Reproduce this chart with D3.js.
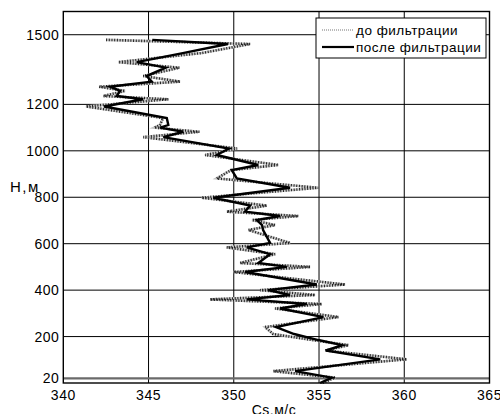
<!DOCTYPE html>
<html>
<head>
<meta charset="utf-8">
<script src="https://cdn.jsdelivr.net/npm/d3@7"></script>
<style>
  body { margin: 0; background: #fff; }
  svg { display: block; font-family: 'Liberation Sans', Arial, sans-serif; }
  .tick-label { font-size: 14px; letter-spacing: 0.5px; fill: #000; }
  .legend-text { font-size: 13.5px; letter-spacing: 0.5px; fill: #000; }
</style>
</head>
<body>
<div id="chart"></div>
<script>
// depth, m
const depth = [1478, 1460, 1421, 1382, 1358, 1322, 1298, 1276, 1258, 1236, 1222, 1191,
  1141, 1111, 1100, 1082, 1059, 1010, 982, 939, 917, 881, 841, 798, 764, 738, 719, 702,
  680, 659, 603, 584, 555, 517, 500, 478, 424, 400, 379, 360, 340, 321, 284, 241, 211,
  185, 163, 140, 102, 51, 23, 0];
// velocity before filtering
const rawVelocity = [342.51, 350.96, 348.12, 343.23, 346.81, 344.69, 346.85, 342.10, 343.62,
  342.35, 346.16, 341.33, 345.85, 345.67, 345.34, 347.98, 344.69, 350.19, 348.32, 352.62,
  349.84, 349.00, 354.96, 348.12, 351.94, 349.59, 353.79, 351.07, 352.42, 350.86, 353.30,
  349.59, 352.42, 350.37, 354.48, 349.98, 356.53, 351.54, 354.77, 348.61, 355.16, 352.42,
  356.14, 351.84, 352.31, 354.60, 356.73, 355.36, 360.15, 352.32, 355.94, 355.18];
// velocity after filtering
const filteredVelocity = [345.22, 349.65, 347.01, 344.31, 346.01, 344.89, 345.19, 342.74, 343.33,
  343.13, 344.69, 342.39, 346.07, 346.16, 345.67, 347.04, 345.87, 349.72, 349.00, 351.44,
  349.88, 350.18, 353.30, 348.80, 350.96, 350.66, 352.72, 351.35, 351.66, 351.72, 352.13,
  350.76, 352.13, 351.44, 353.11, 350.66, 354.87, 352.01, 353.30, 350.76, 354.28, 352.72,
  355.26, 352.48, 353.54, 354.96, 356.36, 355.42, 358.59, 353.60, 355.75, 355.06];

const xTicks = [340, 345, 350, 355, 360, 365];
const yTicks = [20, 200, 400, 600, 800, 1000, 1200, 1500];
const legendLabels = ['до фильтрации', 'после фильтрации'];

const width = 500;
const height = 414;
const margin = { top: 11.5, right: 10.5, bottom: 31, left: 63.3 };

const svg = d3.select('#chart')
  .append('svg')
  .attr('width', width)
  .attr('height', height);

svg.append('rect').attr('width', width).attr('height', height).attr('fill', '#fff');

const x = d3.scaleLinear().domain([340, 365]).range([margin.left, width - margin.right]);
const y = d3.scaleLinear().domain([0, 1600]).range([height - margin.bottom, margin.top]);

// grid
const grid = svg.append('g').attr('class', 'grid');
grid.selectAll('line.vx')
  .data(xTicks.slice(1, -1))
  .join('line')
  .attr('class', 'vx')
  .attr('x1', (d) => x(d)).attr('x2', (d) => x(d))
  .attr('y1', y(0)).attr('y2', y(1600))
  .attr('stroke', '#000')
  .attr('stroke-width', 1);
grid.selectAll('line.hy')
  .data(yTicks)
  .join('line')
  .attr('class', 'hy')
  .attr('x1', x(340)).attr('x2', x(365))
  .attr('y1', (d) => y(d)).attr('y2', (d) => y(d))
  .attr('stroke', (d) => (d === 20 ? '#6a6a6a' : '#000'))
  .attr('stroke-width', (d) => (d === 20 ? 2.2 : 1));

// curves
const rows = depth.map((h, i) => ({ h, raw: rawVelocity[i], filtered: filteredVelocity[i] }));
const rawLine = d3.line().x((d) => x(d.raw)).y((d) => y(d.h));
const filteredLine = d3.line().x((d) => x(d.filtered)).y((d) => y(d.h));

svg.append('path')
  .datum(rows)
  .attr('d', rawLine)
  .attr('fill', 'none')
  .attr('stroke', '#c4c4c4')
  .attr('stroke-width', 2.6);
svg.append('path')
  .datum(rows)
  .attr('d', rawLine)
  .attr('fill', 'none')
  .attr('stroke', '#222')
  .attr('stroke-width', 2.6)
  .attr('stroke-dasharray', '1,1.7');
svg.append('path')
  .datum(rows)
  .attr('d', filteredLine)
  .attr('fill', 'none')
  .attr('stroke', '#000')
  .attr('stroke-width', 2.4)
  .attr('stroke-linejoin', 'miter');

// frame
svg.append('rect')
  .attr('x', x(340)).attr('y', y(1600))
  .attr('width', x(365) - x(340)).attr('height', y(0) - y(1600))
  .attr('fill', 'none')
  .attr('stroke', '#000')
  .attr('stroke-width', 1.4);

// tick labels
svg.append('g')
  .selectAll('text')
  .data(xTicks)
  .join('text')
  .attr('class', 'tick-label')
  .attr('x', (d) => x(d))
  .attr('y', 399.5)
  .attr('text-anchor', 'middle')
  .text((d) => d);
svg.append('g')
  .selectAll('text')
  .data(yTicks)
  .join('text')
  .attr('class', 'tick-label')
  .attr('x', margin.left - 4)
  .attr('y', (d) => y(d) + 5)
  .attr('text-anchor', 'end')
  .text((d) => d);

// axis titles
svg.append('text')
  .attr('class', 'tick-label')
  .attr('x', 274)
  .attr('y', 415)
  .attr('text-anchor', 'middle')
  .text('Cs,м/с');
svg.append('text')
  .attr('class', 'tick-label')
  .attr('x', 10)
  .attr('y', 191.5)
  .style('font-size', '15px')
  .style('letter-spacing', '1.5px')
  .text('Н,м');

// legend
const legend = svg.append('g').attr('transform', 'translate(316, 18)');
legend.append('rect')
  .attr('width', 170).attr('height', 40)
  .attr('fill', '#fff')
  .attr('stroke', '#000')
  .attr('stroke-width', 1);
legend.append('line')
  .attr('x1', 6).attr('x2', 37).attr('y1', 12).attr('y2', 12)
  .attr('stroke', '#777')
  .attr('stroke-width', 1.2)
  .attr('stroke-dasharray', '1,1');
legend.append('line')
  .attr('x1', 6).attr('x2', 38).attr('y1', 29).attr('y2', 29)
  .attr('stroke', '#000')
  .attr('stroke-width', 2.2);
legend.selectAll('text')
  .data(legendLabels)
  .join('text')
  .attr('class', 'legend-text')
  .attr('x', 40)
  .attr('y', (d, i) => 17 + i * 17)
  .text((d) => d);
</script>
</body>
</html>
